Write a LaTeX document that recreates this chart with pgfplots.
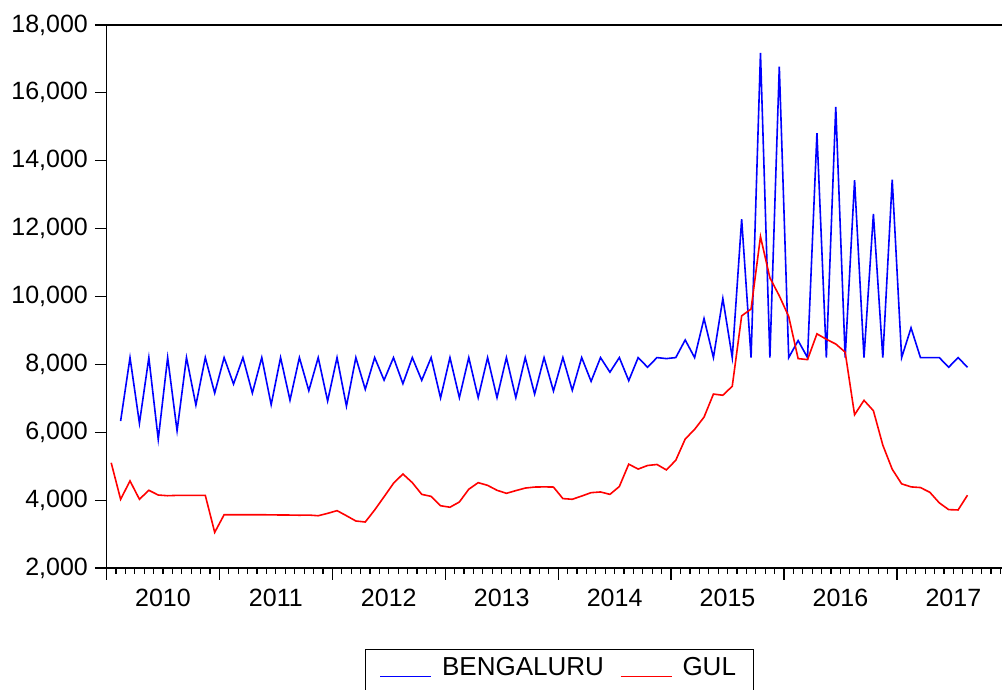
\documentclass[border=0pt]{standalone}
\usepackage{pgfplots}
\pgfplotsset{compat=1.18}
\usepackage{fontspec}
\setmainfont{Liberation Sans}
\begin{document}
\begin{tikzpicture}[font=\fontsize{12.5}{15}\selectfont]
\begin{axis}[
  at={(0,0)}, anchor=south west,
  scale only axis, width=448.85pt, height=271.5pt,
  xmin=0, xmax=95.4, ymin=2000, ymax=18000,
  axis line style={line width=0.8pt},
  xtick={0,12,...,84}, xticklabels={},
  minor xtick={1,...,95},
  extra x ticks={6,18,...,90},
  extra x tick labels={2010,2011,2012,2013,2014,2015,2016,2017},
  extra x tick style={major tick length=0pt, tick label style={yshift=-7pt}},
  ytick={2000,4000,...,18000},
  scaled y ticks=false,
  yticklabel style={/pgf/number format/fixed, /pgf/number format/1000 sep={,}},
  tick align=outside, tick pos=left,
  major tick length=5.8pt, minor tick length=3pt,
  tick style={black, line width=0.6pt},
  /pgf/number format/assume math mode=true,
  /pgf/number format/1000 sep={,},
  legend columns=2,
  legend style={at={(axis description cs:0.28796,-0.14972)}, anchor=north west,
    draw=black, line width=0.5pt, inner xsep=7pt, inner ysep=2pt,
    font=\fontsize{13}{15.6}\selectfont,
    /tikz/every even column/.append style={column sep=6pt}},
  legend image code/.code={\draw[#1] (0pt,-4pt) -- (25.5pt,-4pt); \path (28.5pt,0pt);},
]
\addplot[blue, line width=0.8pt] table {
1.5 6330
2.5 8200
3.5 6265
4.5 8200
5.5 5790
6.5 8200
7.5 6045
8.5 8200
9.5 6800
10.5 8200
11.5 7155
12.5 8200
13.5 7420
14.5 8200
15.5 7155
16.5 8200
17.5 6810
18.5 8200
19.5 6945
20.5 8200
21.5 7225
22.5 8200
23.5 6920
24.5 8200
25.5 6770
26.5 8200
27.5 7265
28.5 8200
29.5 7535
30.5 8200
31.5 7430
32.5 8200
33.5 7530
34.5 8200
35.5 7010
36.5 8200
37.5 7020
38.5 8200
39.5 7020
40.5 8200
41.5 7020
42.5 8200
43.5 7020
44.5 8200
45.5 7125
46.5 8200
47.5 7215
48.5 8200
49.5 7235
50.5 8200
51.5 7500
52.5 8200
53.5 7770
54.5 8200
55.5 7520
56.5 8200
57.5 7915
58.5 8200
59.5 8170
60.5 8200
61.5 8720
62.5 8200
63.5 9350
64.5 8200
65.5 9940
66.5 8200
67.5 12275
68.5 8200
69.5 17180
70.5 8200
71.5 16775
72.5 8200
73.5 8700
74.5 8200
75.5 14815
76.5 8200
77.5 15590
78.5 8200
79.5 13425
80.5 8200
81.5 12430
82.5 8200
83.5 13440
84.5 8200
85.5 9075
86.5 8200
87.5 8200
88.5 8200
89.5 7915
90.5 8200
91.5 7915
};
\addlegendentry{BENGALURU}
\addplot[red, line width=0.8pt] table {
0.5 5100
1.5 4025
2.5 4565
3.5 4025
4.5 4290
5.5 4150
6.5 4130
7.5 4140
8.5 4140
9.5 4140
10.5 4140
11.5 3050
12.5 3570
13.5 3570
14.5 3570
15.5 3570
16.5 3570
17.5 3565
18.5 3562
19.5 3560
20.5 3555
21.5 3560
22.5 3540
23.5 3610
24.5 3690
25.5 3540
26.5 3385
27.5 3355
28.5 3710
29.5 4100
30.5 4495
31.5 4770
32.5 4515
33.5 4170
34.5 4110
35.5 3835
36.5 3790
37.5 3945
38.5 4320
39.5 4515
40.5 4435
41.5 4290
42.5 4200
43.5 4280
44.5 4355
45.5 4385
46.5 4390
47.5 4385
48.5 4045
49.5 4025
50.5 4120
51.5 4220
52.5 4240
53.5 4170
54.5 4400
55.5 5060
56.5 4915
57.5 5020
58.5 5050
59.5 4890
60.5 5175
61.5 5800
62.5 6085
63.5 6445
64.5 7125
65.5 7090
66.5 7355
67.5 9430
68.5 9630
69.5 11765
70.5 10550
71.5 10020
72.5 9410
73.5 8170
74.5 8140
75.5 8900
76.5 8740
77.5 8600
78.5 8360
79.5 6515
80.5 6940
81.5 6635
82.5 5620
83.5 4910
84.5 4480
85.5 4390
86.5 4370
87.5 4230
88.5 3920
89.5 3720
90.5 3710
91.5 4145
};
\addlegendentry{GUL}
\addlegendimage{empty legend}\addlegendentry{}
\addlegendimage{empty legend}\addlegendentry{}
\end{axis}
\pgfresetboundingbox
\useasboundingbox (-53.25pt,-61pt) rectangle (447.75pt,284pt);
\end{tikzpicture}
\end{document}
